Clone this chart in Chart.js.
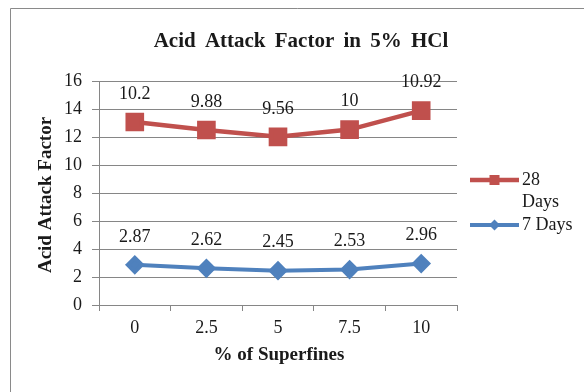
<!DOCTYPE html>
<html>
<head>
<meta charset="utf-8">
<script src="https://cdn.jsdelivr.net/npm/chart.js@4/dist/chart.umd.min.js"></script>
<style>
  html, body { margin: 0; padding: 0; background: #ffffff; }
  #wrap { width: 584px; height: 392px; position: relative; }
</style>
</head>
<body>
<div id="wrap"><canvas id="c" width="584" height="392"></canvas></div>
<script>
// Percentage of superfines replaced
const categories = ['0', '2.5', '5', '7.5', '10'];
// Acid attack factor after 7 days of immersion
const days7 = [2.87, 2.62, 2.45, 2.53, 2.96];
// Acid attack factor after 28 days (stacked on the 7-day series)
const days28 = [10.2, 9.88, 9.56, 10, 10.92];
const seriesNames = ['7 Days', '28 Days'];
const yMin = 0, yMax = 16, yStep = 2;

const titleText = 'Acid Attack Factor in 5% HCl';
const xTitle = '% of Superfines';
const yTitle = 'Acid Attack Factor';

const SERIF = '"Liberation Serif", "DejaVu Serif", serif';
const GRID = '#868686';
const TEXT = '#1a1a1a';
const RED = '#C0504D';
const BLUE = '#4F81BD';

// Frame, titles, value labels and legend
const decorations = {
  id: 'decorations',
  beforeDraw(chart) {
    const ctx = chart.ctx;
    ctx.save();
    ctx.fillStyle = '#ffffff';
    ctx.fillRect(0, 0, chart.width, chart.height);
    ctx.strokeStyle = '#8a8a8a';
    ctx.lineWidth = 1;
    ctx.beginPath();
    ctx.moveTo(10.5, chart.height);
    ctx.lineTo(10.5, 8.5);
    ctx.lineTo(chart.width, 8.5);
    ctx.stroke();
    ctx.restore();
  },
  afterDraw(chart) {
    const ctx = chart.ctx;
    ctx.save();
    ctx.fillStyle = TEXT;
    ctx.textAlign = 'center';
    ctx.textBaseline = 'middle';

    // chart title
    ctx.font = 'bold 21px ' + SERIF;
    if ('wordSpacing' in ctx) ctx.wordSpacing = '4px';
    ctx.fillText(titleText, 301, 42);
    if ('wordSpacing' in ctx) ctx.wordSpacing = '0px';

    // axis titles
    ctx.font = 'bold 19px ' + SERIF;
    ctx.fillText(xTitle, 279, 355);
    ctx.save();
    ctx.translate(46, 195);
    ctx.rotate(-Math.PI / 2);
    ctx.fillText(yTitle, 0, 0);
    ctx.restore();

    // value labels above each point
    ctx.font = '18px ' + SERIF;
    chart.data.datasets.forEach((ds, di) => {
      const meta = chart.getDatasetMeta(di);
      meta.data.forEach((pt, i) => {
        ctx.fillText(String(ds.data[i]), pt.x, pt.y - 28);
      });
    });

    // legend (28 Days first), text wrapped to the space at the right
    const lx0 = 470, lx1 = 519, tx = 522, maxW = 56;
    const rows = [
      { ds: chart.data.datasets[1], y: 180 },
      { ds: chart.data.datasets[0], y: 225 }
    ];
    ctx.font = '18px ' + SERIF;
    ctx.textAlign = 'left';
    rows.forEach(r => {
      const ds = r.ds;
      ctx.strokeStyle = ds.borderColor;
      ctx.lineWidth = ds.borderWidth;
      ctx.beginPath();
      ctx.moveTo(lx0, r.y);
      ctx.lineTo(lx1, r.y);
      ctx.stroke();
      ctx.fillStyle = ds.pointBackgroundColor;
      const cx = (lx0 + lx1) / 2;
      if (ds.pointStyle === 'rect') {
        ctx.fillRect(cx - 5, r.y - 5, 10, 10);
      } else {
        ctx.beginPath();
        ctx.moveTo(cx, r.y - 5.5);
        ctx.lineTo(cx + 5.5, r.y);
        ctx.lineTo(cx, r.y + 5.5);
        ctx.lineTo(cx - 5.5, r.y);
        ctx.closePath();
        ctx.fill();
      }
      // wrap label words
      const words = ds.label.split(' ');
      const lines = [];
      let cur = '';
      words.forEach(w => {
        const t = cur ? cur + ' ' + w : w;
        if (cur && ctx.measureText(t).width > maxW) { lines.push(cur); cur = w; }
        else cur = t;
      });
      lines.push(cur);
      ctx.fillStyle = TEXT;
      lines.forEach((ln, k) => ctx.fillText(ln, tx, r.y + k * 22));
    });
    ctx.restore();
  }
};

new Chart(document.getElementById('c'), {
  type: 'line',
  data: {
    labels: categories,
    datasets: [
      {
        label: seriesNames[0],
        data: days7,
        borderColor: BLUE,
        backgroundColor: BLUE,
        pointBackgroundColor: BLUE,
        pointBorderColor: BLUE,
        pointStyle: 'rectRot',
        pointRadius: 7,
        borderWidth: 4,
        tension: 0,
        fill: false
      },
      {
        label: seriesNames[1],
        data: days28,
        borderColor: RED,
        backgroundColor: RED,
        pointBackgroundColor: RED,
        pointBorderColor: RED,
        pointStyle: 'rect',
        pointRadius: 10,
        borderWidth: 4.5,
        tension: 0,
        fill: false
      }
    ]
  },
  options: {
    responsive: false,
    animation: false,
    devicePixelRatio: 1,
    layout: { padding: { top: 81, right: 127, left: 0, bottom: 0 } },
    plugins: {
      legend: { display: false },
      title: { display: false },
      tooltip: { enabled: false }
    },
    scales: {
      x: {
        type: 'category',
        offset: true,
        grid: { offset: true, drawOnChartArea: false, drawTicks: true, tickLength: 6, color: GRID, lineWidth: 1 },
        border: { color: GRID, width: 1 },
        ticks: { color: TEXT, font: { family: SERIF, size: 18 }, padding: 6 },
        afterFit(s) { s.height = 87; }
      },
      y: {
        stacked: true,
        min: yMin,
        max: yMax,
        grid: { color: GRID, lineWidth: 1, tickLength: 7 },
        border: { color: GRID, width: 1 },
        ticks: { stepSize: yStep, color: TEXT, font: { family: SERIF, size: 18 }, padding: 10 },
        afterFit(s) { s.width = 99; }
      }
    }
  },
  plugins: [decorations]
});
</script>
</body>
</html>
